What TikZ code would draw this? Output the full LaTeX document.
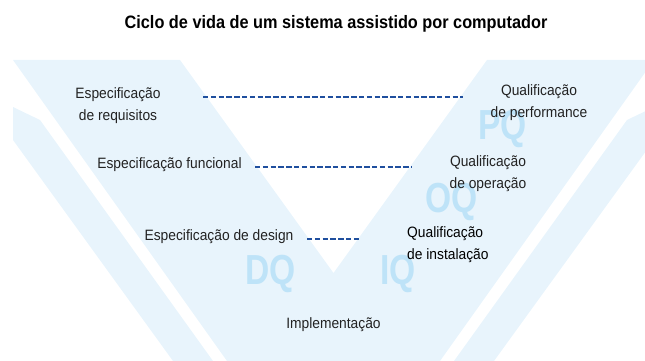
\documentclass[tikz,border=0pt]{standalone}
\usepackage{fontspec}
\setmainfont{Liberation Sans}
\newfontfamily\wmfont{Liberation Sans}[FakeStretch=0.8]
\newfontfamily\bodyfont{Liberation Sans}[FakeStretch=0.92]
\newfontfamily\titlefont{Liberation Sans}[FakeStretch=0.905]
\definecolor{vfill}{HTML}{E8F4FC}
\definecolor{wm}{HTML}{BEE3F8}
\definecolor{dashblue}{HTML}{1F4F9E}
\definecolor{txt}{HTML}{222222}
\begin{document}
\begin{tikzpicture}[x=1pt,y=-1pt,
  lbl/.style={text=txt,font=\bodyfont\fontsize{15}{21.5}\selectfont,align=center,inner sep=0pt},
  wmark/.style={text=wm,font=\wmfont\bfseries\fontsize{42}{42}\selectfont,inner sep=0pt,anchor=base west},
  dashline/.style={draw=dashblue,line width=2.3pt,dash pattern=on 5.3pt off 2.5pt}]
\useasboundingbox (0,0) rectangle (645,361);
\begin{scope}
\clip (0,0) rectangle (645,361);
\fill[vfill] (13,60) -- (180,60) -- (333.5,273) -- (487,60) -- (654,60) -- (440,361) -- (227,361) -- cycle;
\fill[vfill] (13,107) -- (40,120) -- (213,361) -- (173,361) -- (13,140) -- cycle;
\fill[vfill] (654,107) -- (627,120) -- (454,361) -- (494,361) -- (654,140) -- cycle;
\end{scope}
% watermarks
\node[wmark] (wdq) at (245,284) {DQ};
\node[wmark] (wiq) at (380,284) {IQ};
\node[wmark] (woq) at (425,212) {OQ};
\node[wmark] (wpq) at (478,139) {PQ};
% title
\node[font=\titlefont\bfseries\fontsize{18}{20}\selectfont,anchor=base,inner sep=0pt] (title) at (336,29) {Ciclo de vida de um sistema assistido por computador};
% labels
\node[lbl,anchor=base] (req) at (118,120) {Especificação\\de requisitos};
\node[lbl,anchor=base] (fun) at (169.5,168) {Especificação funcional};
\node[lbl,anchor=base] (des) at (219,240) {Especificação de design};
\node[lbl,anchor=base] (imp) at (333.5,328) {Implementação};
\node[lbl,anchor=base] (pq) at (539,117) {Qualificação\\de performance};
\node[lbl,anchor=base] (oq) at (488,188) {Qualificação\\de operação};
\node[lbl,anchor=base west,align=left,text=black] (iq) at (407,259) {Qualificação\\de instalação};
% dashed connectors
\coordinate (d1a) at (203,97); \coordinate (d1b) at (463,97);
\coordinate (d2a) at (255,167); \coordinate (d2b) at (412,167);
\coordinate (d3a) at (307,239); \coordinate (d3b) at (360,239);
\draw[dashline] (d1a) -- (d1b);
\draw[dashline] (d2a) -- (d2b);
\draw[dashline] (d3a) -- (d3b);
\end{tikzpicture}
\end{document}
